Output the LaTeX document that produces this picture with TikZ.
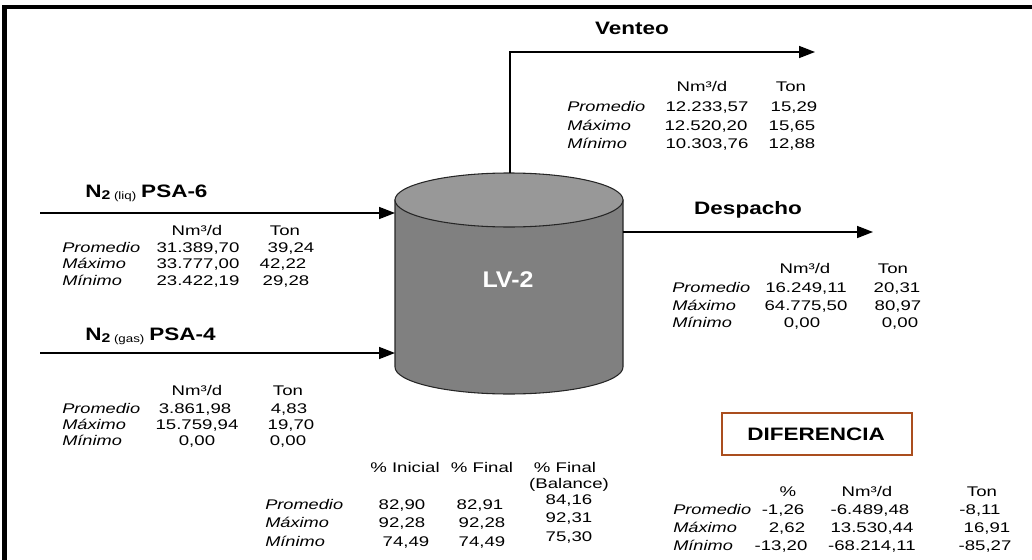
\documentclass[tikz,border=0pt]{standalone}
\usepackage{fontspec}
\setmainfont{Liberation Sans}
\usepackage{graphicx}
\usetikzlibrary{arrows.meta}
\newcommand\sx[1]{\scalebox{1.33}[1]{#1}}
\newcommand\slab[1]{\scalebox{1.3}[1]{#1}}
\newcommand\bx[1]{\scalebox{1.25}[1]{#1}}
\definecolor{cylbody}{RGB}{128,128,128}
\definecolor{cyltop}{RGB}{152,152,152}
\definecolor{difbrown}{RGB}{170,78,30}
\newcommand\trow[8]{%
  \node[lab] (#1l) at (#2,#3) {\slab{#4}};
  \node[t] (#1a) at (#5,#3) {\sx{#6}};
  \node[t] (#1b) at (#7,#3) {\sx{#8}};}
\begin{document}
\begin{tikzpicture}[x=0.75pt,y=-0.75pt,
  t/.style={inner sep=0pt, anchor=base, font=\fontsize{10.5}{12}\selectfont},
  lab/.style={inner sep=0pt, anchor=base west, font=\fontsize{10.5}{12}\selectfont\itshape},
  ttl/.style={inner sep=0pt, anchor=base, font=\fontsize{13.5}{16}\selectfont\bfseries},
  flow/.style={line width=1.2pt, -{Triangle[length=12pt,width=9pt]}}]
\useasboundingbox (0,0) rectangle (1032,560);
% frame
\fill[black] (2,5) rectangle (1032,9);
\fill[black] (2,5) rectangle (7,560);
% cylinder
\filldraw[fill=cylbody, draw=black!85, line width=0.8pt]
  (395,200) -- (395,367) arc[start angle=180, end angle=0, x radius=114, y radius=27] -- (623,200) -- cycle;
\filldraw[fill=cyltop, draw=black!85, line width=0.8pt] (509,200) ellipse [x radius=114, y radius=27];
\node[inner sep=0pt, anchor=base, text=white, font=\fontsize{17}{20}\selectfont\bfseries] (lv) at (508,287) {\scalebox{1.1}[1]{LV-2}};
% connectors
\coordinate (vtop) at (510,173);
\coordinate (vcorner) at (510,52);
\coordinate (vend) at (815,52);
\draw[flow] (vtop) -- (vcorner) -- (vend);
\coordinate (p6s) at (40,213);
\coordinate (p6e) at (395,213);
\draw[flow] (p6s) -- (p6e);
\coordinate (p4s) at (40,353);
\coordinate (p4e) at (395,353);
\draw[flow] (p4s) -- (p4e);
\coordinate (dss) at (623,232);
\coordinate (dse) at (873,232);
\draw[flow] (dss) -- (dse);
% titles
\node[ttl] (tven) at (632,35) {\bx{Venteo}};
\node[ttl] (tdes) at (748,214) {\bx{Despacho}};
\node[ttl, anchor=base west] (tp6) at (85,197) {\bx{N}{\fontsize{9.5}{9}\selectfont\raisebox{-1.5pt}{\bx{2}}}{\fontsize{8}{8}\selectfont\mdseries\raisebox{-1.5pt}{\bx{ (liq)}}} \bx{PSA-6}};
\node[ttl, anchor=base west] (tp4) at (85,340) {\bx{N}{\fontsize{9.5}{9}\selectfont\raisebox{-1.5pt}{\bx{2}}}{\fontsize{8}{8}\selectfont\mdseries\raisebox{-1.5pt}{\bx{ (gas)}}} \bx{PSA-4}};
% Venteo table
\node[t] (vh1) at (702,92) {\sx{Nm³/d}};
\node[t] (vh2) at (791,92) {\sx{Ton}};
\trow{vp}{567}{112}{Promedio}{707}{12.233,57}{794}{15,29}
\trow{vx}{567}{130}{Máximo}{706}{12.520,20}{792}{15,65}
\trow{vn}{567}{148}{Mínimo}{707}{10.303,76}{792}{12,88}
% PSA-6 table
\node[t] (p6h1) at (197,235) {\sx{Nm³/d}};
\node[t] (p6h2) at (285,235) {\sx{Ton}};
\trow{p6p}{62}{252}{Promedio}{198}{31.389,70}{291}{39,24}
\trow{p6x}{62}{268}{Máximo}{198}{33.777,00}{283}{42,22}
\trow{p6n}{62}{285}{Mínimo}{198}{23.422,19}{286}{29,28}
% PSA-4 table
\node[t] (p4h1) at (197,395) {\sx{Nm³/d}};
\node[t] (p4h2) at (288,395) {\sx{Ton}};
\trow{p4p}{62}{413}{Promedio}{195}{3.861,98}{289}{4,83}
\trow{p4x}{62}{429}{Máximo}{197}{15.759,94}{291}{19,70}
\trow{p4n}{62}{445}{Mínimo}{197}{0,00}{288}{0,00}
% Despacho table
\node[t] (dh1) at (805,273) {\sx{Nm³/d}};
\node[t] (dh2) at (893,273) {\sx{Ton}};
\trow{dp}{672}{292}{Promedio}{806}{16.249,11}{897}{20,31}
\trow{dx}{672}{310}{Máximo}{806}{64.775,50}{898}{80,97}
\trow{dn}{672}{327}{Mínimo}{802}{0,00}{900}{0,00}
% DIFERENCIA
\node[draw=difbrown, line width=2.2pt, minimum width=190*0.75pt, minimum height=42*0.75pt, inner sep=0pt] (dif) at (817,434) {};
\node[ttl] (diftxt) at (816,440) {\bx{DIFERENCIA}};
% level table
\node[t] (lh1) at (405,472) {\sx{\% Inicial}};
\node[t] (lh2) at (482,472) {\sx{\% Final}};
\node[t] (lh3) at (565,472) {\sx{\% Final}};
\node[t] (lh4) at (569,488) {\sx{(Balance)}};
\trow{lp}{265}{509}{Promedio}{402}{82,90}{480}{82,91}
\trow{lx}{265}{527}{Máximo}{402}{92,28}{482}{92,28}
\trow{ln}{265}{546}{Mínimo}{406}{74,49}{482}{74,49}
\node[t] (lb1) at (569,504) {\sx{84,16}};
\node[t] (lb2) at (569,522) {\sx{92,31}};
\node[t] (lb3) at (569,541) {\sx{75,30}};
% difference table
\node[t] (dfh1) at (788,496) {\sx{\%}};
\node[t] (dfh2) at (867,496) {\sx{Nm³/d}};
\node[t] (dfh3) at (982,496) {\sx{Ton}};
\trow{dfp}{673}{514}{Promedio}{783}{-1,26}{870}{-6.489,48}
\trow{dfx}{673}{532}{Máximo}{787}{2,62}{872}{13.530,44}
\trow{dfn}{673}{550}{Mínimo}{781}{-13,20}{872}{-68.214,11}
\node[t] (dfp3) at (980,514) {\sx{-8,11}};
\node[t] (dfx3) at (987,532) {\sx{16,91}};
\node[t] (dfn3) at (985,550) {\sx{-85,27}};
\end{tikzpicture}
\end{document}
